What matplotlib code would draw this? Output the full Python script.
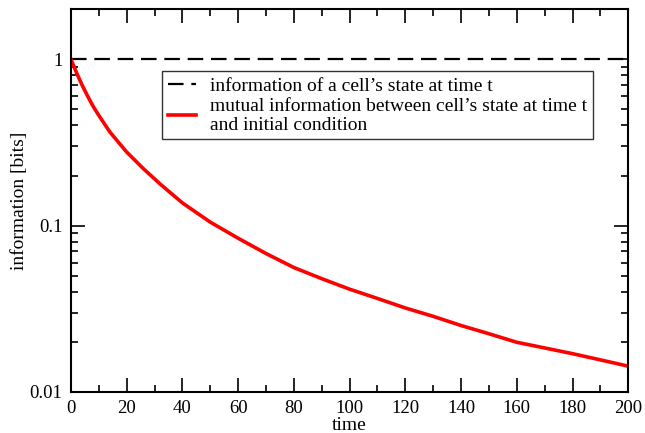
import matplotlib
matplotlib.use('Agg')
import matplotlib.pyplot as plt
from matplotlib.ticker import FixedLocator, FixedFormatter, LogLocator, NullFormatter, MultipleLocator

plt.rcParams['font.family'] = ['Liberation Serif', 'DejaVu Serif']

# time axis and the two curves
time = [0, 2, 4, 6, 8, 10, 14, 20, 26, 32, 40, 50, 60, 70, 80, 90, 100,
        110, 120, 130, 140, 150, 160, 170, 180, 190, 200]
mutual_info = [1.0, 0.83, 0.70, 0.60, 0.52, 0.46, 0.365, 0.277, 0.22, 0.178,
               0.137, 0.105, 0.084, 0.068, 0.056, 0.048, 0.0415, 0.0365,
               0.032, 0.0285, 0.0251, 0.0224, 0.0199, 0.0184, 0.0170,
               0.0156, 0.0143]
state_info = [1.0, 1.0]
state_time = [0, 200]

label_state = "information of a cell\u2019s state at time t"
label_mutual = "mutual information between cell\u2019s state at time t\nand initial condition"

fig = plt.figure(figsize=(6.45, 4.33), dpi=100)
ax = fig.add_axes([0.110, 0.0947, 0.864, 0.884])

ax.plot(state_time, state_info, color='black', lw=1.6, dashes=(7, 3.5),
        label=label_state)
ax.plot(time, mutual_info, color='red', lw=2.6, label=label_mutual)

ax.set_yscale('log')
ax.set_xlim(0, 200)
ax.set_ylim(0.01, 2.0)

ax.xaxis.set_major_locator(MultipleLocator(20))
ax.xaxis.set_minor_locator(MultipleLocator(10))
ax.yaxis.set_major_locator(FixedLocator([0.01, 0.1, 1]))
ax.yaxis.set_major_formatter(FixedFormatter(['0.01', '0.1', '1']))
ax.yaxis.set_minor_locator(LogLocator(base=10, subs=range(2, 10)))
ax.yaxis.set_minor_formatter(NullFormatter())

ax.tick_params(which='both', direction='in', top=True, right=True,
               labelsize=13.5, width=1.2)
ax.tick_params(axis='x', pad=6)
ax.tick_params(axis='y', pad=6)
ax.tick_params(which='major', length=10)
ax.tick_params(which='minor', length=5)
for s in ax.spines.values():
    s.set_linewidth(1.5)

ax.set_xlabel('time', fontsize=14, labelpad=0)
ax.set_ylabel('information [bits]', fontsize=14, labelpad=1)

leg = ax.legend(loc='upper left', bbox_to_anchor=(0.163, 0.838), fontsize=14,
                frameon=True, fancybox=False, handlelength=1.45,
                handletextpad=0.72, borderpad=0.3, labelspacing=0.15,
                borderaxespad=0)
leg.get_frame().set_edgecolor('black')
leg.get_frame().set_linewidth(1.0)
for t in leg.get_texts():
    t.set_linespacing(1.15)

fig.savefig('out.png', dpi=100)
